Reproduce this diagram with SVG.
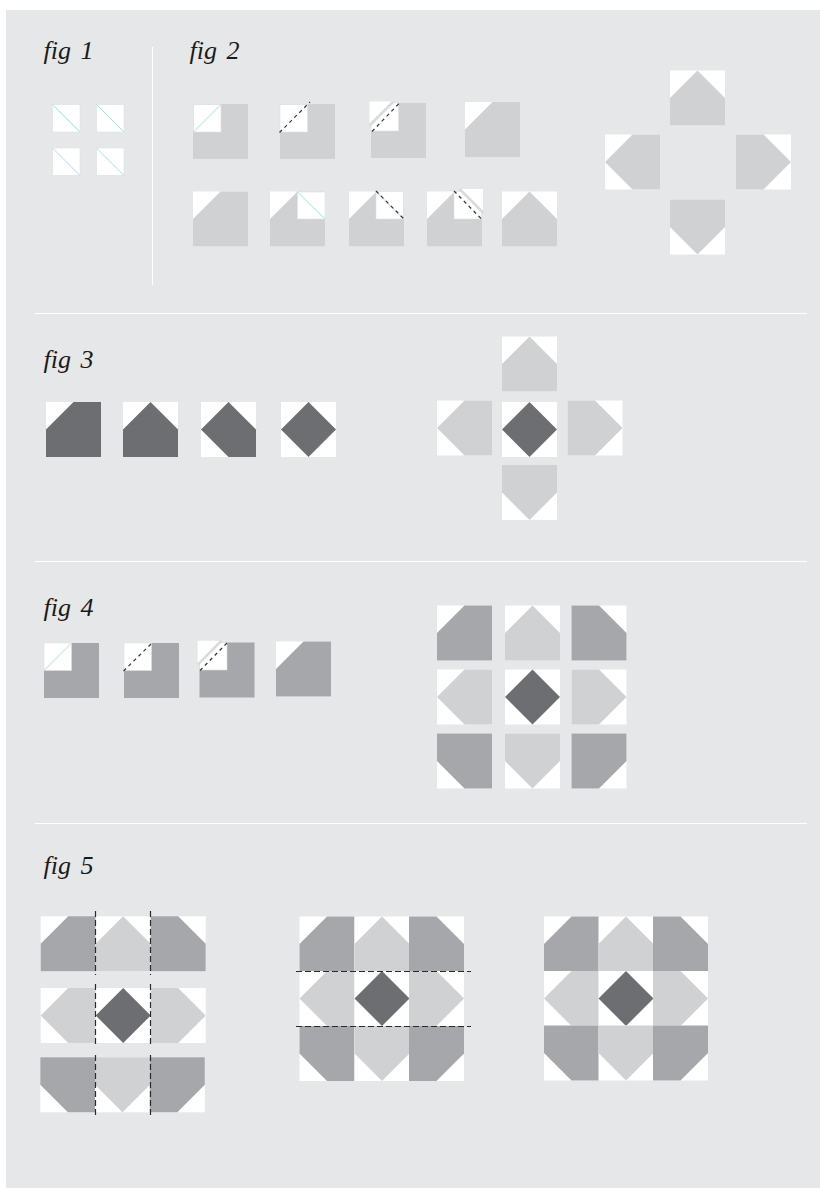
<svg xmlns="http://www.w3.org/2000/svg" width="820" height="1189" viewBox="0 0 820 1189">
<style>
.w{fill:#fff}
.l{fill:#d0d1d3}
.m{fill:#a6a7aa}
.d{fill:#6d6e71}
.sm{fill:#fff;stroke:#dfe0e2;stroke-width:.6}
.blue{stroke:#a9e0ea;stroke-width:1;fill:none}
.cut{stroke:#333436;stroke-width:1.2;stroke-dasharray:3.500 3.500;fill:none}
.cutb{stroke:#2a2a2c;stroke-width:1.2;stroke-dasharray:6 3;fill:none}
.rule{stroke:#fff;stroke-width:1;fill:none}
.flap{fill:#fff}
.strip{stroke:#d9dadc;stroke-width:2.600;fill:none}
text{font-family:"Liberation Serif","Times New Roman",serif;font-style:italic;font-size:26px;fill:#1a1a1a;word-spacing:3px}
</style>
<defs>
<g id="solid"><rect width="55" height="55"/></g>
<g id="corner"><rect class="w" width="55" height="55"/><polygon points="27.5,0 55,0 55,55 0,55 0,27.5"/></g>
<g id="house"><rect class="w" width="55" height="55"/><polygon points="27.5,0 55,27.5 55,55 0,55 0,27.5"/></g>
<g id="three"><rect class="w" width="55" height="55"/><polygon points="27.5,0 55,27.5 55,55 27.5,55 0,27.5"/></g>
<g id="dia"><rect class="w" width="55" height="55"/><polygon points="27.5,0 55,27.5 27.5,55 0,27.5"/></g>
</defs>
<rect id="page" x="6" y="10" width="814" height="1178" fill="#e6e7e9"/>
<g id="labels">
<text x="43.500" y="59">fig 1</text>
<text x="189.500" y="59">fig 2</text>
<text x="43.500" y="368">fig 3</text>
<text x="43.500" y="616">fig 4</text>
<text x="43.500" y="874">fig 5</text>
</g>
<g id="rules">
<path class="rule" d="M152.500 47V285M35 313.500H807M35 561.500H807M35 823.500H807"/>
</g>
<g id="fig1">
<g id="f1a"><rect class="sm" x="52.500" y="104.500" width="27.500" height="27.500"/><path class="blue" d="M52.500 104.500L80 132"/></g>
<g id="f1b"><rect class="sm" x="96.500" y="104.500" width="27.500" height="27.500"/><path class="blue" d="M96.500 104.500L124 132"/></g>
<g id="f1c"><rect class="sm" x="52.500" y="148" width="27.500" height="27.500"/><path class="blue" d="M52.500 148L80 175.500"/></g>
<g id="f1d"><rect class="sm" x="96.500" y="148" width="27.500" height="27.500"/><path class="blue" d="M96.500 148L124 175.500"/></g>
</g>
<g id="fig2">
<g id="f2a"><use href="#solid" class="l" x="193" y="104"/><rect class="sm" x="193.500" y="104.500" width="27.500" height="27.500"/><path class="blue" d="M193.500 132L221 104.500"/></g>
<g id="f2b"><use href="#solid" class="l" x="280" y="104"/><rect class="sm" x="280" y="104.500" width="27.500" height="27.500"/></g>
<g id="f2c"><use href="#solid" class="l" x="371" y="103"/><rect class="sm" x="371" y="103" width="27.500" height="28"/><polygon class="flap" points="369.500,101.500 392.500,101.500 369.500,124.500"/><path class="strip" d="M369.500 125.500L393 102"/></g>
<use id="f2d" href="#corner" class="l" x="465" y="102"/>
<use id="f2e" href="#corner" class="l" x="193" y="191.500"/>
<g id="f2f"><use href="#corner" class="l" x="270" y="191.500"/><rect class="sm" x="297.500" y="192" width="27.500" height="27"/><path class="blue" d="M297.500 192L325 219"/></g>
<g id="f2g"><use href="#corner" class="l" x="349" y="191.500"/><rect class="sm" x="376" y="191.500" width="27.500" height="27.500"/><path class="blue" d="M376 191.500L403.500 219"/></g>
<g id="f2h"><use href="#corner" class="l" x="427" y="191.500"/><rect class="sm" x="454" y="191.500" width="27.500" height="27.500"/><polygon class="flap" points="460,189 483,189 483,212"/><path class="strip" d="M459.500 189L483.500 213"/></g>
<use id="f2i" href="#house" class="l" x="502" y="191.500"/>
<use id="f2top" href="#house" class="l" x="670" y="70.500"/>
<use id="f2left" href="#house" class="l" transform="translate(605 134.500) rotate(-90 27.500 27.500)"/>
<use id="f2right" href="#house" class="l" transform="translate(736 134.500) rotate(90 27.500 27.500)"/>
<use id="f2bottom" href="#house" class="l" transform="translate(670 199.500) rotate(180 27.500 27.500)"/>
</g>
<g id="fig3">
<use id="f3a" href="#corner" class="d" x="46" y="402"/>
<use id="f3b" href="#house" class="d" x="123" y="402"/>
<use id="f3c" href="#three" class="d" x="201" y="402"/>
<use id="f3d" href="#dia" class="d" x="281" y="402"/>
<use id="f3top" href="#house" class="l" x="502" y="336.500"/>
<use id="f3left" href="#house" class="l" transform="translate(437 400.500) rotate(-90 27.500 27.500)"/>
<use id="f3mid" href="#dia" class="d" x="502" y="402"/>
<use id="f3right" href="#house" class="l" transform="translate(567.500 400.500) rotate(90 27.500 27.500)"/>
<use id="f3bottom" href="#house" class="l" transform="translate(502 465) rotate(180 27.500 27.500)"/>
</g>
<g id="fig4">
<g id="f4a"><use href="#solid" class="m" x="44" y="643"/><rect class="sm" x="44" y="643" width="27.500" height="27.500"/><path class="blue" d="M44 670.500L71.500 643"/></g>
<g id="f4b"><use href="#solid" class="m" x="124" y="643"/><rect class="sm" x="124" y="643" width="27.500" height="27.500"/></g>
<g id="f4c"><use href="#solid" class="m" x="199.500" y="642.500"/><rect class="sm" x="199.500" y="642.500" width="27.500" height="27.500"/><polygon class="flap" points="197.700,640.700 220.700,640.700 197.700,663.700"/><path class="strip" d="M197.700 664.700L221.500 640.700"/></g>
<use id="f4d" href="#corner" class="m" x="276" y="641.500"/>
<use id="f4tl" href="#corner" class="m" x="437" y="605.500"/>
<use id="f4tm" href="#house" class="l" x="505" y="605.500"/>
<use id="f4tr" href="#corner" class="m" transform="translate(571.500 605.500) rotate(90 27.500 27.500)"/>
<use id="f4ml" href="#house" class="l" transform="translate(437 669.500) rotate(-90 27.500 27.500)"/>
<use id="f4mm" href="#dia" class="d" x="505" y="669.500"/>
<use id="f4mr" href="#house" class="l" transform="translate(571.500 669.500) rotate(90 27.500 27.500)"/>
<use id="f4bl" href="#corner" class="m" transform="translate(437 733.500) rotate(-90 27.500 27.500)"/>
<use id="f4bm" href="#house" class="l" transform="translate(505 733.500) rotate(180 27.500 27.500)"/>
<use id="f4br" href="#corner" class="m" transform="translate(571.500 733.500) rotate(180 27.500 27.500)"/>
</g>
<g id="fig5a">
<use id="a1" href="#corner" class="m" x="40.700" y="916.300"/>
<use id="a2" href="#house" class="l" x="95.700" y="916.300"/>
<use id="a3" href="#corner" class="m" transform="translate(150.700 916.300) rotate(90 27.500 27.500)"/>
<use id="a4" href="#house" class="l" transform="translate(40.700 988) rotate(-90 27.500 27.500)"/>
<use id="a5" href="#dia" class="d" x="95.700" y="988"/>
<use id="a6" href="#house" class="l" transform="translate(150.700 988) rotate(90 27.500 27.500)"/>
<use id="a7" href="#corner" class="m" transform="translate(40.300 1057.300) rotate(-90 27.500 27.500)"/>
<use id="a8" href="#house" class="l" transform="translate(95 1057.300) rotate(180 27.500 27.500)"/>
<use id="a9" href="#corner" class="m" transform="translate(149.800 1057.300) rotate(180 27.500 27.500)"/>
</g>
<g id="fig5b">
<use id="b1" href="#corner" class="m" x="299.500" y="916.500"/>
<use id="b2" href="#house" class="l" x="354.500" y="916.500"/>
<use id="b3" href="#corner" class="m" transform="translate(409 916.500) rotate(90 27.500 27.500)"/>
<use id="b4" href="#house" class="l" transform="translate(299.500 971) rotate(-90 27.500 27.500)"/>
<use id="b5" href="#dia" class="d" x="354.500" y="971"/>
<use id="b6" href="#house" class="l" transform="translate(409 971) rotate(90 27.500 27.500)"/>
<use id="b7" href="#corner" class="m" transform="translate(299.500 1026) rotate(-90 27.500 27.500)"/>
<use id="b8" href="#house" class="l" transform="translate(354.500 1026) rotate(180 27.500 27.500)"/>
<use id="b9" href="#corner" class="m" transform="translate(409 1026) rotate(180 27.500 27.500)"/>
</g>
<g id="fig5c">
<use id="c1" href="#corner" class="m" x="544" y="916.500"/>
<use id="c2" href="#house" class="l" x="598.500" y="916.500"/>
<use id="c3" href="#corner" class="m" transform="translate(653 916.500) rotate(90 27.500 27.500)"/>
<use id="c4" href="#house" class="l" transform="translate(544 971) rotate(-90 27.500 27.500)"/>
<use id="c5" href="#dia" class="d" x="598.500" y="971"/>
<use id="c6" href="#house" class="l" transform="translate(653 971) rotate(90 27.500 27.500)"/>
<use id="c7" href="#corner" class="m" transform="translate(544 1025.500) rotate(-90 27.500 27.500)"/>
<use id="c8" href="#house" class="l" transform="translate(598.500 1025.500) rotate(180 27.500 27.500)"/>
<use id="c9" href="#corner" class="m" transform="translate(653 1025.500) rotate(180 27.500 27.500)"/>
</g>
<g id="connectors">
<path class="cut" d="M279.500 132.500L310 102"/>
<path class="cut" d="M372 131.500L399 103.500"/>
<path class="cut" d="M376 191L404.500 219.500"/>
<path class="cut" d="M454 191L481 218.500"/>
<path class="cut" d="M123.500 671L153 642"/>
<path class="cut" d="M200 670.500L227.500 642.500"/>
<path class="cutb" d="M95.500 911V975M95.500 984V1046M95.500 1055V1118M150.500 911V975M150.500 984V1046M150.500 1055V1118"/>
<path class="cutb" d="M296 971.500H471M296 1026.500H471"/>
</g>
</svg>
